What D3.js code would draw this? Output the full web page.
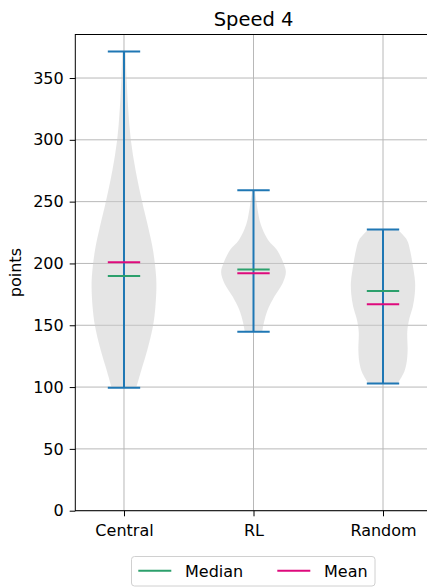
<!DOCTYPE html>
<html>
<head>
<meta charset="utf-8">
<script src="https://cdn.jsdelivr.net/npm/d3@7"></script>
<style>
  html, body { margin: 0; padding: 0; background: #fff; }
  svg { display: block; font-family: "DejaVu Sans", sans-serif; }
</style>
</head>
<body>
<svg id="chart" width="427" height="588"></svg>
<script>
// Speed 4: distribution of points per strategy
const categories = ["Central", "RL", "Random"];
const maxima  = [371.5, 259.2, 227.4];
const minima  = [99.5, 144.8, 102.8];
const medians = [189.9, 195.2, 177.8];
const means   = [201.0, 192.0, 167.0];
const yTicks  = [0, 50, 100, 150, 200, 250, 300, 350];

// Kernel density outlines: [value, relative half-width]
const centralDensity = [
  [371.5, 0.05], [350, 0.08], [325, 0.13], [300, 0.21], [275, 0.36],
  [250, 0.56], [230, 0.74], [210, 0.90], [190, 0.99], [180, 1.00],
  [165, 0.97], [150, 0.90], [130, 0.72], [115, 0.55], [99.5, 0.38]
];
const rlDensity = [
  [259.2, 0.04], [250, 0.09], [240, 0.15], [232, 0.22], [219, 0.45],
  [211, 0.72], [200, 0.93], [193, 1.00], [184, 0.90], [173, 0.64],
  [162, 0.43], [152, 0.32], [144.8, 0.27]
];
const randomDensity = [
  [227.4, 0.45], [219, 0.74], [210, 0.84], [200, 0.91], [185, 0.99],
  [175, 0.98], [165, 0.92], [155, 0.81], [145, 0.75], [130, 0.76],
  [120, 0.73], [112, 0.65], [102.8, 0.45]
];
const densities = [centralDensity, rlDensity, randomDensity];

const svg = d3.select("#chart");
const plotLeft = 75.3, plotRight = 431.7, plotTop = 34.5, plotBottom = 510.7;

const x = d3.scaleLinear().domain([0.624, 3.376]).range([plotLeft, plotRight]);
const y = d3.scaleLinear().domain([0, 385.2]).range([plotBottom, plotTop]);

const violinWidth = 0.5;   // in category units
const capWidth = 0.25;

const blue = "#1f77b4", green = "#2ca06c", pink = "#de0a7c";
const fontSize = 16;

// grid
const grid = svg.append("g");
grid.selectAll("line.h").data(yTicks).join("line")
  .attr("x1", plotLeft).attr("x2", plotRight)
  .attr("y1", d => y(d)).attr("y2", d => y(d))
  .attr("stroke", "#b8b8b8").attr("stroke-width", 1);
grid.selectAll("line.v").data(categories).join("line")
  .attr("x1", (d, i) => x(i + 1)).attr("x2", (d, i) => x(i + 1))
  .attr("y1", plotTop).attr("y2", plotBottom)
  .attr("stroke", "#b8b8b8").attr("stroke-width", 1);

// violin bodies
densities.forEach((dens, i) => {
  const c = i + 1;
  const area = d3.area()
    .y(d => y(d[0]))
    .x0(d => x(c - d[1] * violinWidth / 2))
    .x1(d => x(c + d[1] * violinWidth / 2))
    .curve(d3.curveCatmullRom);
  svg.append("path").attr("d", area(dens))
    .attr("fill", "#cccccc").attr("fill-opacity", 0.5);
});

// extrema bars and caps, then median and mean markers
const stats = svg.append("g");
categories.forEach((cat, i) => {
  const c = i + 1;
  stats.append("line")
    .attr("x1", x(c)).attr("x2", x(c))
    .attr("y1", y(minima[i])).attr("y2", y(maxima[i]))
    .attr("stroke", blue).attr("stroke-width", 2);
  [minima[i], maxima[i]].forEach(v => {
    stats.append("line")
      .attr("x1", x(c - capWidth / 2)).attr("x2", x(c + capWidth / 2))
      .attr("y1", y(v)).attr("y2", y(v))
      .attr("stroke", blue).attr("stroke-width", 2);
  });
  stats.append("line")
    .attr("x1", x(c - capWidth / 2)).attr("x2", x(c + capWidth / 2))
    .attr("y1", y(medians[i])).attr("y2", y(medians[i]))
    .attr("stroke", green).attr("stroke-width", 2);
  stats.append("line")
    .attr("x1", x(c - capWidth / 2)).attr("x2", x(c + capWidth / 2))
    .attr("y1", y(means[i])).attr("y2", y(means[i]))
    .attr("stroke", pink).attr("stroke-width", 2);
});

// axes
const yAxis = d3.axisLeft(y).tickValues(yTicks).tickSize(5.6).tickPadding(6);
const gy = svg.append("g").attr("transform", `translate(${plotLeft},0)`).call(yAxis);
const xAxis = d3.axisBottom(x).tickValues([1, 2, 3])
  .tickFormat((d, i) => categories[i]).tickSize(5.6).tickPadding(8);
const gx = svg.append("g").attr("transform", `translate(0,${plotBottom})`).call(xAxis);
[gx, gy].forEach(g => {
  g.select(".domain").remove();
  g.selectAll("text").attr("font-size", fontSize).attr("fill", "#000")
    .attr("font-family", "DejaVu Sans");
  g.selectAll(".tick line").attr("stroke", "#000").attr("stroke-width", 1);
});

// spines
svg.append("rect")
  .attr("x", plotLeft).attr("y", plotTop)
  .attr("width", plotRight - plotLeft).attr("height", plotBottom - plotTop)
  .attr("fill", "none").attr("stroke", "#000").attr("stroke-width", 1);

// title and axis label
svg.append("text").attr("x", (plotLeft + plotRight) / 2).attr("y", 26)
  .attr("text-anchor", "middle").attr("font-size", 19.5).text("Speed 4");
svg.append("text")
  .attr("transform", `translate(21,${(plotTop + plotBottom) / 2}) rotate(-90)`)
  .attr("text-anchor", "middle").attr("font-size", fontSize).text("points");

// legend
const legend = svg.append("g");
legend.append("rect")
  .attr("x", 131.5).attr("y", 556.5).attr("width", 243.5).attr("height", 29.5)
  .attr("rx", 3).attr("fill", "#fff").attr("stroke", "#d0d0d0").attr("stroke-width", 1);
const items = [
  { label: "Median", color: green, x0: 138.3, tx: 185 },
  { label: "Mean", color: pink, x0: 277.3, tx: 324 }
];
items.forEach(it => {
  legend.append("line")
    .attr("x1", it.x0).attr("x2", it.x0 + 33)
    .attr("y1", 570.7).attr("y2", 570.7)
    .attr("stroke", it.color).attr("stroke-width", 2);
  legend.append("text").attr("x", it.tx).attr("y", 576.5)
    .attr("font-size", fontSize).text(it.label);
});
</script>
</body>
</html>
